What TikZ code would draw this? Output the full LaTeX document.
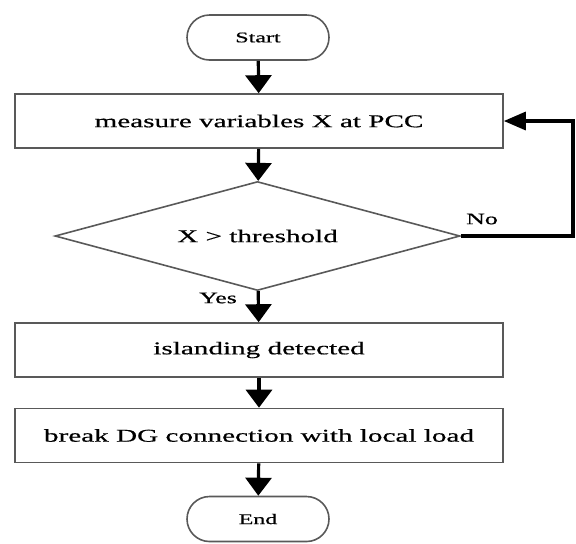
\documentclass[tikz,border=0pt]{standalone}
\usepackage{fontspec}
\setmainfont{Liberation Serif}
\newfontfamily\widefont[FakeStretch=1.62,FakeBold=0.6]{Liberation Serif}
\usetikzlibrary{arrows.meta,shapes.geometric,shapes.misc}

\begin{document}
\begin{tikzpicture}[x=0.5pt,y=-0.5pt,
	box/.style={draw=black!65,line width=0.8pt,rectangle,minimum width=244pt,minimum height=27pt,inner sep=0pt,font=\widefont\fontsize{9}{11}\selectfont},
	term/.style={draw=black!65,line width=0.8pt,rounded rectangle,minimum width=71pt,minimum height=22.5pt,inner sep=0pt,font=\widefont\fontsize{7.4}{9}\selectfont},
	test/.style={draw=black!65,line width=0.8pt,diamond,aspect=3.7,minimum width=202.5pt,minimum height=54.5pt,inner sep=0pt,font=\widefont\fontsize{9}{11}\selectfont},
	lbl/.style={font=\widefont\fontsize{8}{10}\selectfont},
	flow/.style={line width=1.6pt,-{Triangle[length=9pt,width=13pt]}},
	back/.style={line width=1.6pt,-{Triangle[length=11pt,width=9pt]}}]
	\useasboundingbox (0,0) rectangle (576,543);
	\node[term] (start) at (258,37.5) {Start};
	\node[box] (measure) at (259,121) {measure variables X at PCC};
	\node[test] (cond) at (257.5,236) {X > threshold};
	\node[box] (island) at (259,350) {islanding detected};
	\node[box] (brk) at (259,435.5) {break DG connection with local load};
	\node[term] (end) at (258,519) {End};
	\node[lbl] (no) at (482,219) {No};
	\node[lbl] (yes) at (218,298) {Yes};
	\coordinate (loop) at (573,121);
	%
	\path[flow]
	(start) edge (measure)
	(measure) edge (cond)
	(cond) edge (island)
	(island) edge (brk)
	(brk) edge (end);
	\draw[back] (cond.east) -| (loop) -- (measure.east);
\end{tikzpicture}
\end{document}
